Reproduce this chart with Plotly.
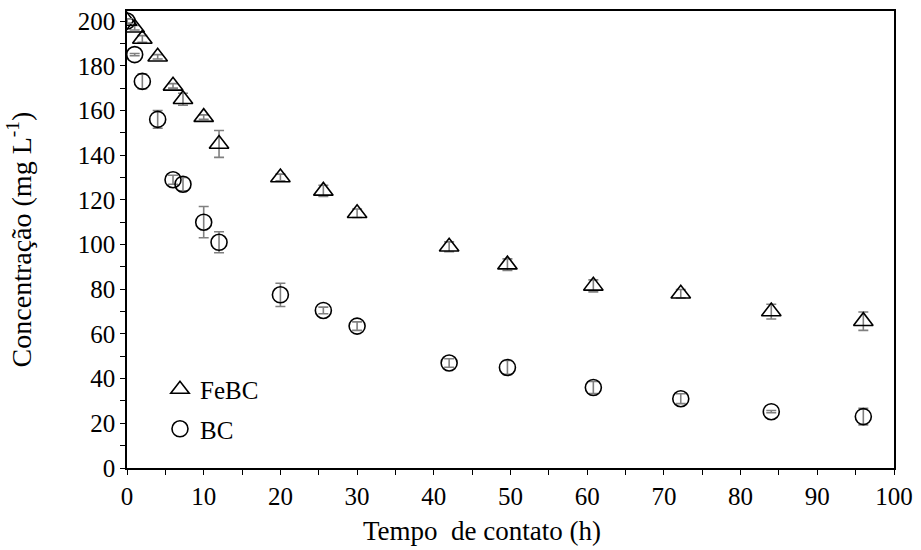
import plotly.graph_objects as go

# ---- data ----
time_h = [0, 1, 2, 4, 6, 7.3, 10, 12, 20, 25.6, 30, 42, 49.6, 60.8, 72.2, 84, 96]
conc_febc = [200, 197, 192, 184, 171, 165, 157, 145, 130, 124, 114, 99, 91, 81.5, 78, 70, 65.7]
err_febc = [1, 1, 1.5, 1, 1, 2.7, 1, 6, 1.5, 2.5, 1.9, 2.2, 2.6, 2.7, 1.9, 3.3, 4.1]
conc_bc = [200, 185, 173, 156, 129, 127, 110, 101, 77.5, 70.5, 63.5, 47, 45, 36, 31, 25.2, 23]
err_bc = [1, 0.5, 3.3, 4, 2, 3, 7, 4.7, 5.2, 1.5, 1.9, 1.9, 3.1, 2.7, 2.2, 0.5, 3.7]

x_label = "Tempo  de contato (h)"
y_label = "Concentração (mg L<sup>-1</sup>)"

FONT = "Liberation Serif, Times New Roman, serif"
ERR_COLOR = "#808080"

fig = go.Figure()
fig.add_trace(go.Scatter(
    x=time_h, y=conc_febc, mode="markers", name="FeBC", legendgroup="a",
    marker=dict(symbol="triangle-up-open", size=17, color="black", line=dict(width=1.6, color="black")),
    error_y=dict(type="data", array=err_febc, color=ERR_COLOR, thickness=1.6, width=5),
))
fig.add_trace(go.Scatter(
    x=time_h, y=conc_bc, mode="markers", name="BC", legendgroup="b",
    marker=dict(symbol="circle-open", size=16, color="black", line=dict(width=1.6, color="black")),
    error_y=dict(type="data", array=err_bc, color=ERR_COLOR, thickness=1.6, width=5),
))

axis_common = dict(
    showline=True, linecolor="black", linewidth=1.5, mirror=True,
    showgrid=False, zeroline=False,
    ticks="outside", ticklen=5, tickcolor="black", tickwidth=1.2,
    tickfont=dict(family=FONT, size=25, color="black"),
)

fig.update_layout(
    width=921, height=550,
    margin=dict(l=127, r=23, t=8, b=82),
    paper_bgcolor="white", plot_bgcolor="white",
    font=dict(family=FONT, color="black"),
    showlegend=True,
    xaxis=dict(range=[0, 100], dtick=10, tick0=0,
               minor=dict(dtick=5, ticks="outside", ticklen=5, tickcolor="black", tickwidth=1.2),
               **axis_common),
    yaxis=dict(range=[0, 204.5], dtick=20, tick0=0,
               minor=dict(dtick=10, ticks="outside", ticklen=5, tickcolor="black", tickwidth=1.2),
               title=dict(text=y_label, font=dict(family=FONT, size=28, color="black"), standoff=38),
               **axis_common),
    legend=dict(x=0.043, y=0.222, xanchor="left", yanchor="top",
                bgcolor="rgba(0,0,0,0)", font=dict(family=FONT, size=25, color="black"),
                itemwidth=30, traceorder="grouped", tracegroupgap=4),
    annotations=[dict(text=x_label, xref="paper", yref="paper", x=0.463, y=-0.138,
                      xanchor="center", yanchor="middle", showarrow=False,
                      font=dict(family=FONT, size=27, color="black"))],
)

fig.write_html("out.html")
